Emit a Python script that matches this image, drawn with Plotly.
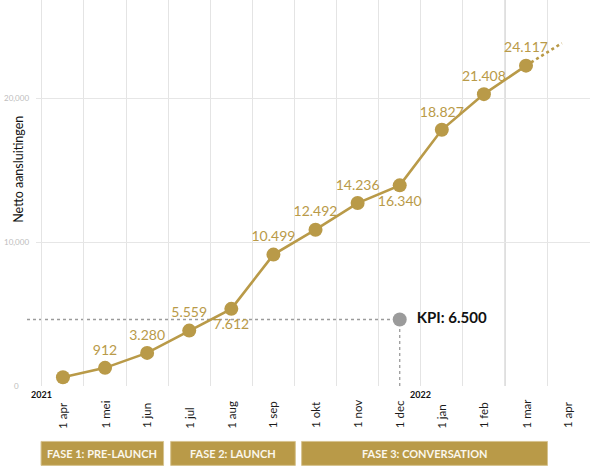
import plotly.graph_objects as go

# data
months = ["1 apr", "1 mei", "1 jun", "1 jul", "1 aug", "1 sep", "1 okt",
          "1 nov", "1 dec", "1 jan", "1 feb", "1 mar", "1 apr"]
aansluitingen = [610, 1260, 2300, 3850, 5360, 9130, 10860, 12710, 13940, 17800, 20280, 22260]
value_labels = ["", "912", "3.280", "5.559", "7.612", "10.499", "12.492",
                "14.236", "16.340", "18.827", "21.408", "24.117"]
labels_below = ["1 aug", "1 dec"]
forecast_x = [11, 11.85]
forecast_y = [22260, 23820]
kpi_month = 8
kpi_value = 4620
kpi_label = "KPI: 6.500"
years = [("2021", -0.5), ("2022", 8.5)]
phases = [("FASE 1: PRE-LAUNCH", -0.52, 2.39),
          ("FASE 2: LAUNCH", 2.56, 5.52),
          ("FASE 3: CONVERSATION", 5.67, 11.51)]
y_ticks = [0, 10000, 20000]

GOLD = "#B99A48"
FONT = "Lato"

W, H = 590, 467
ML, MT, MB = 36, 0, 80.5
PLOT_H = H - MT - MB
X_RANGE = [-0.64, 12.52]
Y_RANGE = [0, 26820]


def py(px_y):
    # pixel row -> paper y
    return 1 - (px_y - MT) / PLOT_H


def px_to_xpaper(px_x):
    return (px_x - ML) / (W - ML)


def data_to_xpaper(v):
    return (v - X_RANGE[0]) / (X_RANGE[1] - X_RANGE[0])


x_idx = list(range(len(aansluitingen)))
positions = ["bottom center" if months[i] in labels_below and i > 0 else "top center"
             for i in x_idx]

fig = go.Figure()

# forecast dotted continuation
fig.add_trace(go.Scatter(
    x=forecast_x, y=forecast_y, mode="lines",
    line=dict(color=GOLD, width=2.6, dash="dot"),
    hoverinfo="skip"))

fig.add_trace(go.Scatter(
    x=x_idx, y=aansluitingen, mode="lines+markers+text",
    line=dict(color=GOLD, width=2.6),
    marker=dict(size=14, color=GOLD),
    text=value_labels, textposition=positions,
    textfont=dict(family=FONT, size=14, color=GOLD),
    cliponaxis=False))

fig.add_trace(go.Scatter(
    x=[kpi_month], y=[kpi_value], mode="markers+text",
    marker=dict(size=14, color="#9b9b9b"),
    text=["  " + kpi_label], textposition="middle right",
    textfont=dict(family=FONT, size=15, color="#111", weight="bold"),
    cliponaxis=False))

shapes = []
# darker "now" line between feb and mar
shapes.append(dict(type="line", xref="x", yref="paper", x0=10.5, x1=10.5, y0=0, y1=1,
                   line=dict(color="#cfcfcf", width=1.4), layer="below"))
# KPI guide lines
shapes.append(dict(type="line", xref="paper", yref="y",
                   x0=px_to_xpaper(27), x1=data_to_xpaper(kpi_month),
                   y0=kpi_value, y1=kpi_value,
                   line=dict(color="#9b9b9b", width=1.3, dash="dot"), layer="below"))
shapes.append(dict(type="line", xref="x", yref="y", x0=kpi_month, x1=kpi_month,
                   y0=0, y1=kpi_value,
                   line=dict(color="#9b9b9b", width=1.3, dash="dot"), layer="below"))

annotations = []
for name, x0, x1 in phases:
    shapes.append(dict(type="rect", xref="x", yref="paper", x0=x0, x1=x1,
                       y0=py(466), y1=py(442), fillcolor=GOLD,
                       line=dict(color="#d6c38f", width=1)))
    annotations.append(dict(x=(x0 + x1) / 2, y=py(454.5), xref="x", yref="paper",
                            text="<b>" + name + "</b>", showarrow=False,
                            xanchor="center", yanchor="middle",
                            font=dict(family=FONT, size=11, color="#fbf7ec")))

for i, m in enumerate(months):
    annotations.append(dict(x=i, y=py(431), xref="x", yref="paper", text=m,
                            textangle=-90, showarrow=False, yanchor="bottom",
                            xanchor="center",
                            font=dict(family=FONT, size=11.5, color="#1a1a1a")))

for yr, xpos in years:
    annotations.append(dict(x=xpos, y=py(395), xref="x", yref="paper",
                            text="<b>" + yr + "</b>", showarrow=False,
                            xanchor="center", yanchor="middle",
                            font=dict(family=FONT, size=9, color="#111")))

# centred y tick labels
for t in y_ticks:
    annotations.append(dict(x=px_to_xpaper(16.5), y=t, xref="paper", yref="y",
                            text=f"{t:,}", showarrow=False,
                            xanchor="center", yanchor="middle",
                            font=dict(family=FONT, size=8, color="#bdbdbd")))

annotations.append(dict(x=px_to_xpaper(19), y=py(170), xref="paper", yref="paper",
                        text="Netto aansluitingen", textangle=-90, showarrow=False,
                        xanchor="center", yanchor="middle",
                        font=dict(family=FONT, size=12.5, color="#111")))

fig.update_layout(
    width=W, height=H,
    margin=dict(l=ML, r=0, t=MT, b=MB),
    paper_bgcolor="white", plot_bgcolor="white",
    showlegend=False,
    font=dict(family=FONT),
    xaxis=dict(range=X_RANGE, showgrid=False, zeroline=False, showticklabels=False,
               minor=dict(tick0=-0.5, dtick=1, showgrid=True,
                          gridcolor="#e4e4e4", gridwidth=1.3)),
    yaxis=dict(range=Y_RANGE, tickvals=y_ticks, showgrid=True, showticklabels=False,
               gridcolor="#e6e6e6", gridwidth=1.2, zeroline=False, ticklen=0),
    shapes=shapes,
    annotations=annotations,
)

fig.write_html("out.html", config={"displayModeBar": False},
               post_script="document.body.style.margin = '0';")
